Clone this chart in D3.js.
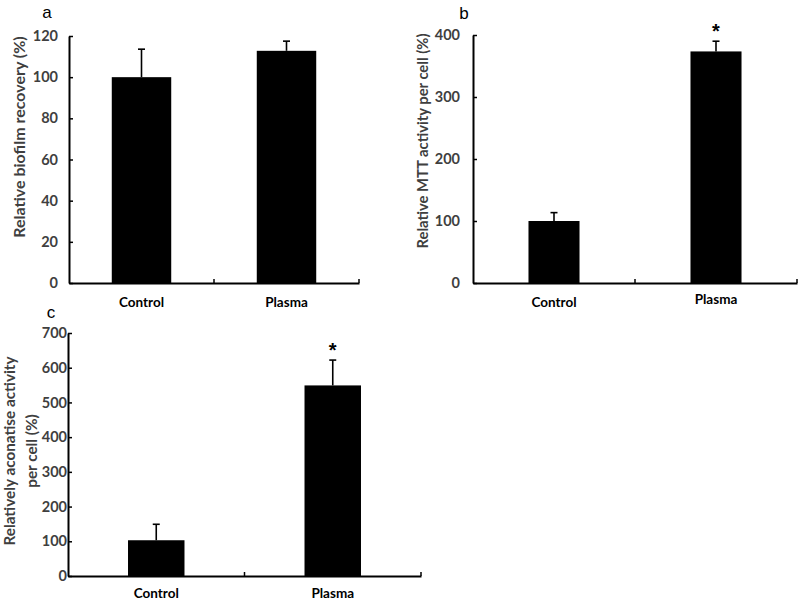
<!DOCTYPE html>
<html><head><meta charset="utf-8">
<script src="https://cdn.jsdelivr.net/npm/d3@7"></script>
<style>body{margin:0;background:#fff}svg{display:block}</style>
</head><body>
<svg id="chart" width="800" height="601"></svg>
<script>
const categories = ["Control", "Plasma"];
// Panel a
const aValues = [100, 112.8];
const aErrors = [13.6, 4.7];
const aTicks = [0, 20, 40, 60, 80, 100, 120];
// Panel b
const bValues = [100, 373.5];
const bErrors = [13.5, 16.5];
const bTicks = [0, 100, 200, 300, 400];
// Panel c
const cValues = [103, 549];
const cErrors = [46, 73];
const cTicks = [0, 100, 200, 300, 400, 500, 600, 700];
const significance = ["", "*"];

const svg = d3.select("#chart");
const FONT = "Lato, 'Open Sans', sans-serif";

function panel(o) {
  const g = svg.append("g");
  const x = d3.scaleBand().domain(categories).range([o.x0, o.x1]).padding(0);
  const y = d3.scaleLinear().domain([0, o.ticks[o.ticks.length - 1]]).range([o.yb, o.yt]);
  const bw = x.bandwidth() * o.barFrac;
  const cx = c => x(c) + x.bandwidth() / 2;

  g.selectAll("rect.bar").data(categories).join("rect")
    .attr("x", c => cx(c) - bw / 2)
    .attr("y", (c, i) => y(o.values[i]))
    .attr("width", bw)
    .attr("height", (c, i) => y(0) - y(o.values[i]))
    .attr("fill", "#000");

  g.selectAll("line.err").data(categories).join("line")
    .attr("x1", cx).attr("x2", cx)
    .attr("y1", (c, i) => y(o.values[i]))
    .attr("y2", (c, i) => y(o.values[i] + o.errors[i]))
    .attr("stroke", "#000").attr("stroke-width", 1.6);
  g.selectAll("line.cap").data(categories).join("line")
    .attr("x1", c => cx(c) - 3.5).attr("x2", c => cx(c) + 3.5)
    .attr("y1", (c, i) => y(o.values[i] + o.errors[i]))
    .attr("y2", (c, i) => y(o.values[i] + o.errors[i]))
    .attr("stroke", "#000").attr("stroke-width", 1.6);

  g.selectAll("text.sig").data(categories).join("text")
    .attr("x", cx)
    .attr("y", (c, i) => y(o.values[i] + o.errors[i]) - 3)
    .attr("text-anchor", "middle")
    .attr("font-family", "Arial, 'Liberation Sans', sans-serif")
    .attr("font-size", 20).attr("font-weight", "bold")
    .text((c, i) => o.sig ? significance[i] : "");

  const yAxis = g.append("g").attr("transform", `translate(${o.x0},0)`)
    .call(d3.axisLeft(y).tickValues(o.ticks).tickSize(-4).tickPadding(o.tickPad).tickSizeOuter(0));
  yAxis.select(".domain").attr("stroke-width", 2);
  yAxis.selectAll(".tick line").attr("stroke-width", 1.5);
  yAxis.selectAll(".tick text").attr("font-family", FONT).attr("font-size", 14.5)
    .attr("font-weight", "bold").attr("fill", "#3f3f3f");

  const xAxis = g.append("g").attr("transform", `translate(0,${o.yb})`)
    .call(d3.axisBottom(x).tickSize(0).tickFormat(""));
  xAxis.select(".domain").attr("stroke-width", 2);
  const bounds = [x.range()[0] + x.step(), x.range()[1]];
  g.selectAll("line.xt").data(bounds).join("line")
    .attr("x1", d => d).attr("x2", d => d)
    .attr("y1", o.yb).attr("y2", o.yb - 4)
    .attr("stroke", "#000").attr("stroke-width", 1.5);

  g.selectAll("text.cat").data(categories).join("text")
    .attr("x", cx)
    .attr("y", (c, i) => o.catY[i])
    .attr("text-anchor", "middle")
    .attr("font-family", FONT).attr("font-size", 13.5).attr("font-weight", "bold")
    .attr("fill", "#000")
    .text(c => c);

  const t = g.append("text")
    .attr("transform", `translate(${o.titleX},${o.titleY}) rotate(-90)`)
    .attr("text-anchor", "middle")
    .attr("font-family", FONT).attr("font-size", o.titleSize).attr("font-weight", "bold")
    .attr("fill", "#3f3f3f");
  o.title.forEach((line, i) => {
    t.append("tspan").attr("x", 0).attr("dy", i === 0 ? 0 : 22).text(line);
  });

  g.append("text").attr("x", o.lx).attr("y", o.ly)
    .attr("text-anchor", "middle")
    .attr("font-family", "Arial, 'Liberation Sans', sans-serif").attr("font-size", 17)
    .attr("fill", "#000").text(o.letter);
}

panel({letter: "a", lx: 47, ly: 18, x0: 69, x1: 359, yb: 283, yt: 36, barFrac: 0.41,
  values: aValues, errors: aErrors, ticks: aTicks, sig: false, tickPad: 11,
  catY: [307, 307], title: ["Relative biofilm recovery (%)"], titleSize: 16, titleX: 25, titleY: 137});
panel({letter: "b", lx: 464, ly: 19, x0: 473, x1: 797, yb: 283, yt: 35, barFrac: 0.315,
  values: bValues, errors: bErrors, ticks: bTicks, sig: true, tickPad: 13,
  catY: [307, 304], title: ["Relative MTT activity per cell (%)"], titleSize: 14.8, titleX: 428, titleY: 141});
panel({letter: "c", lx: 51, ly: 318, x0: 68, x1: 421, yb: 576, yt: 333, barFrac: 0.32,
  values: cValues, errors: cErrors, ticks: cTicks, sig: true, tickPad: 1,
  catY: [598, 598], title: ["Relatively aconatise activity", "per cell (%)"], titleSize: 15.3, titleX: 15, titleY: 451});
</script>
</body></html>
